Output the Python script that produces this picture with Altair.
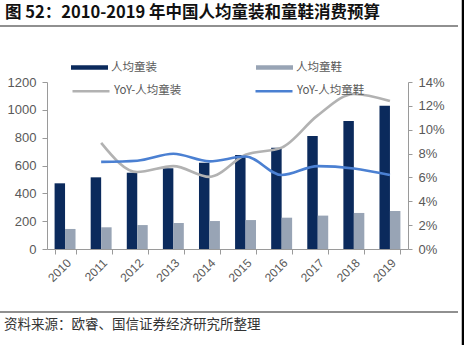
import altair as alt
import pandas as pd

years = ["2010", "2011", "2012", "2013", "2014", "2015", "2016", "2017", "2018", "2019"]
clothes = [472, 515, 548, 580, 620, 675, 728, 812, 920, 1030]
shoes = [144, 156, 172, 187, 201, 208, 225, 240, 259, 273]
yoy_years = ["2011", "2012", "2013", "2014", "2015", "2016", "2017", "2018", "2019"]
yoy_clothes = [8.9, 6.45, 6.95, 6.05, 7.9, 8.5, 11.2, 13.0, 12.4]
yoy_shoes = [7.3, 7.4, 7.98, 7.35, 7.75, 6.2, 6.95, 6.75, 6.2]

bar_names = ["人均童装", "人均童鞋"]
line_names = ["YoY-人均童装", "YoY-人均童鞋"]

title_text = "图 52：2010-2019 年中国人均童装和童鞋消费预算"
source_text = "资料来源：欧睿、国信证券经济研究所整理"

bars_df = pd.DataFrame(
    [{"year": y, "series": bar_names[0], "value": v} for y, v in zip(years, clothes)]
    + [{"year": y, "series": bar_names[1], "value": v} for y, v in zip(years, shoes)]
)
lines_df = pd.DataFrame(
    [{"year": y, "series": line_names[0], "yoy": v} for y, v in zip(yoy_years, yoy_clothes)]
    + [{"year": y, "series": line_names[1], "yoy": v} for y, v in zip(yoy_years, yoy_shoes)]
)

W, H = 361, 167
AX = "#9a9a9a"
LBL = "#595959"
CJK = "Noto Sans CJK SC"
LAT = "Liberation Sans"

xscale = alt.Scale(domain=years, paddingInner=0.42, paddingOuter=0.21)
xaxis = alt.Axis(
    title=None, labelAngle=-45, labelAlign="right", labelBaseline="top",
    labelFont=LAT, labelFontSize=12, labelColor=LBL, labelPadding=3,
    tickBand="extent", tickSize=5, tickColor=AX, domainColor=AX,
)

bars = alt.Chart(bars_df).mark_bar().encode(
    x=alt.X("year:N", scale=xscale, axis=xaxis),
    xOffset=alt.XOffset("series:N", scale=alt.Scale(domain=bar_names, paddingInner=0, paddingOuter=0)),
    y=alt.Y("value:Q", scale=alt.Scale(domain=[0, 1200]),
            axis=alt.Axis(title=None, values=[0, 200, 400, 600, 800, 1000, 1200], grid=False,
                          format="d",
                          labelFont=LAT, labelFontSize=13, labelColor=LBL, labelPadding=6,
                          tickSize=5, tickColor=AX, domainColor=AX)),
    fill=alt.Fill("series:N", scale=alt.Scale(domain=bar_names, range=["#0b2a5c", "#98a4b5"]),
                  legend=alt.Legend(title=None, orient="none", legendX=24, legendY=-33,
                                    direction="horizontal", columns=2, columnPadding=99,
                                    symbolType="M-1,-0.12H1V0.12H-1Z", symbolSize=1369,
                                    symbolStrokeWidth=0, labelOffset=3,
                                    labelFont=CJK, labelFontSize=11.5, labelColor=LBL)),
)

lines = alt.Chart(lines_df).mark_line(interpolate="monotone", strokeWidth=2.6).encode(
    x=alt.X("year:N", scale=xscale, axis=xaxis),
    y=alt.Y("yoy:Q", scale=alt.Scale(domain=[0, 14]),
            axis=alt.Axis(title=None, orient="right", values=[0, 2, 4, 6, 8, 10, 12, 14], grid=False,
                          labelExpr="datum.value + '%'",
                          labelFont=LAT, labelFontSize=13, labelColor=LBL, labelPadding=6,
                          tickSize=4, tickColor=AX, domainColor=AX)),
    stroke=alt.Stroke("series:N", scale=alt.Scale(domain=line_names, range=["#b2b2b2", "#4b80d2"]),
                      legend=alt.Legend(title=None, orient="none", legendX=24, legendY=-11,
                                        direction="horizontal", columns=2, columnPadding=68,
                                        symbolType="stroke", symbolSize=1369, symbolStrokeWidth=2.6,
                                        labelOffset=3,
                                        labelFont=CJK, labelFontSize=11.5, labelColor=LBL)),
)

one = alt.Data(values=[{"k": 1}])

title = alt.Chart(one).mark_text(
    text=title_text, align="left", baseline="middle", font=CJK, fontSize=16.5,
    fontWeight="bold", color="#111111"
).encode(x=alt.value(-42), y=alt.value(-69))

top_rule = alt.Chart(one).mark_rule(color="#222222", strokeWidth=1.2).encode(
    x=alt.value(-47), x2=alt.value(411), y=alt.value(-56))

bottom_rule = alt.Chart(one).mark_rule(color="#222222", strokeWidth=1.2).encode(
    x=alt.value(-47), x2=alt.value(411), y=alt.value(230))

source = alt.Chart(one).mark_text(
    text=source_text, align="left", baseline="middle", font=CJK, fontSize=13.5,
    color="#333333"
).encode(x=alt.value(-43), y=alt.value(243))

border = alt.Chart(one).mark_rule(color="#000000", strokeWidth=2.5).encode(
    x=alt.value(416), y=alt.value(-82), y2=alt.value(263))

chart = alt.layer(bars, lines, title, top_rule, bottom_rule, source, border).resolve_scale(
    y="independent", fill="independent", stroke="independent"
).properties(
    width=W, height=H,
    autosize=alt.AutoSizeParams(type="none"),
    padding={"left": 47, "top": 82, "right": 56, "bottom": 96},
    background="white",
).configure_view(stroke=None)

chart.save("out.html", embed_options={"renderer": "svg", "actions": False})
